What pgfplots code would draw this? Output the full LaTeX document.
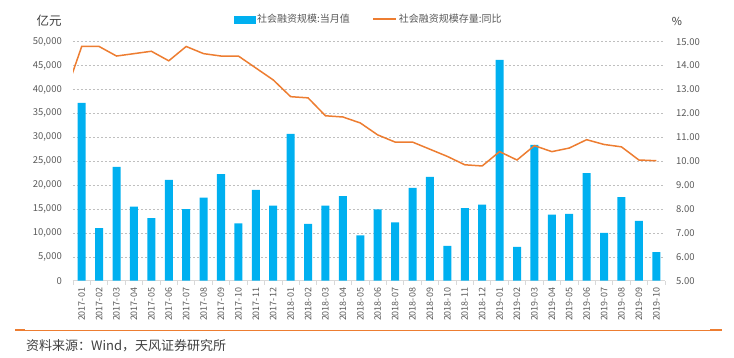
\documentclass[border=0pt]{standalone}
\usepackage{fontspec}
\setmainfont{Noto Sans CJK SC}
\usepackage{pgfplots}
\usepackage{pgfplotstable}
\pgfplotsset{compat=1.18}
\definecolor{barblue}{HTML}{00B0F0}
\definecolor{lineorange}{HTML}{ED7D31}
\definecolor{tickgray}{HTML}{595959}
\definecolor{gridgray}{HTML}{BFBFBF}
\definecolor{axisgray}{HTML}{D9D9D9}
\definecolor{darktext}{HTML}{404040}

\pgfplotstableread{
x v
0 37200
1 11000
2 23800
3 15500
4 13100
5 21100
6 15000
7 17400
8 22300
9 12000
10 19000
11 15700
12 30700
13 11900
14 15700
15 17700
16 9500
17 14900
18 12200
19 19400
20 21700
21 7300
22 15200
23 15900
24 46200
25 7100
26 28400
27 13800
28 14000
29 22500
30 10000
31 17500
32 12500
33 6000
}\barsdata

\pgfplotstableread{
x v
-1 12.7
0 14.8
1 14.8
2 14.4
3 14.5
4 14.6
5 14.2
6 14.8
7 14.5
8 14.4
9 14.4
10 13.9
11 13.4
12 12.7
13 12.65
14 11.9
15 11.85
16 11.6
17 11.1
18 10.8
19 10.8
20 10.5
21 10.2
22 9.85
23 9.8
24 10.4
25 10.05
26 10.65
27 10.4
28 10.55
29 10.9
30 10.7
31 10.6
32 10.05
33 10.02
}\linedata

\begin{document}
\begin{tikzpicture}[x=1pt,y=1pt]
\path[use as bounding box] (0,0) rectangle (734,357);
\begin{axis}[
  at={(73pt,76.3pt)}, anchor=south west, scale only axis,
  width=592pt, height=239pt,
  xmin=-0.5, xmax=33.5, ymin=0, ymax=50000,
  axis x line*=bottom, axis y line*=left,
  axis line style={-},
  x axis line style={axisgray, line width=0.8pt},
  y axis line style={draw=none},
  ytick={0,5000,...,50000},
  ytick style={draw=none},
  scaled y ticks=false,
  yticklabel style={font=\fontsize{9.5}{11}\selectfont, text=tickgray, inner sep=0pt,
    /pgf/number format/.cd, fixed, 1000 sep={,}, assume math mode=true},
  yticklabel shift=11pt,
  xtick={0,...,33},
  xticklabels={2017-01,2017-02,2017-03,2017-04,2017-05,2017-06,2017-07,2017-08,2017-09,2017-10,2017-11,2017-12,2018-01,2018-02,2018-03,2018-04,2018-05,2018-06,2018-07,2018-08,2018-09,2018-10,2018-11,2018-12,2019-01,2019-02,2019-03,2019-04,2019-05,2019-06,2019-07,2019-08,2019-09,2019-10},
  xticklabel style={rotate=90, anchor=east, inner sep=0pt, font=\fontsize{9}{10}\selectfont, text=tickgray},
  xticklabel shift=7pt,
  major x tick style={draw=none},
  extra x ticks={-0.5,0.5,...,33.5},
  extra x tick labels={},
  extra x tick style={tick align=outside, major tick length=4pt, major x tick style={axisgray, line width=0.8pt, draw=axisgray}},
  ymajorgrids,
  grid style={gridgray, dash pattern=on 2pt off 2pt, line width=0.6pt},
  clip=true,
]
\addplot[ybar, bar width=8pt, fill=barblue, draw=none] table[x=x,y=v]{\barsdata};
\end{axis}
\begin{axis}[
  at={(73pt,76.3pt)}, anchor=south west, scale only axis,
  width=592pt, height=239pt,
  xmin=-0.5, xmax=33.5, ymin=5, ymax=15,
  hide x axis,
  axis y line*=right,
  axis line style={-},
  y axis line style={draw=none},
  ytick={5,...,15},
  ytick style={draw=none},
  yticklabel style={font=\fontsize{9.5}{11}\selectfont, text=tickgray, inner sep=0pt, anchor=west,
    /pgf/number format/.cd, fixed, fixed zerofill, precision=2, assume math mode=true},
  yticklabel shift=11pt,
  legend columns=2,
  legend style={at={(0.272,1.093)}, anchor=west, draw=none, fill=none,
    inner sep=0pt,
    font=\fontsize{10}{12}\selectfont, text=tickgray,
    nodes={inner sep=1.5pt},
    /tikz/every even column/.append style={column sep=21pt}},
]
\addlegendimage{legend image code/.code={\fill[barblue] (0pt,-3.3pt) rectangle (21pt,3.3pt);}}
\addlegendentry{社会融资规模:当月值}
\addplot[lineorange, line width=1.5pt, legend image code/.code={\draw[draw=lineorange, line width=2pt] (0pt,0pt) -- (23pt,0pt);}] table[x=x,y=v]{\linedata};
\addlegendentry{社会融资规模存量:同比}
\end{axis}
\node[anchor=center, inner sep=0pt, text=darktext, font=\fontsize{12.5}{14}\selectfont] at (49,336) {亿元};
\node[anchor=center, inner sep=0pt, text=darktext, font=\fontsize{11}{13}\selectfont] at (677,336) {\%};
\draw[lineorange, line width=1pt] (15,27) -- (722,27);
\draw[lineorange, line width=2.2pt] (15,27.4) -- (25,27.4);
\draw[lineorange, line width=2.2pt] (710,27.4) -- (722,27.4);
\node[anchor=west, inner sep=0pt, text=darktext, font=\fontsize{13}{15}\selectfont] at (26,11) {资料来源：Wind，天风证券研究所};
\end{tikzpicture}
\end{document}
